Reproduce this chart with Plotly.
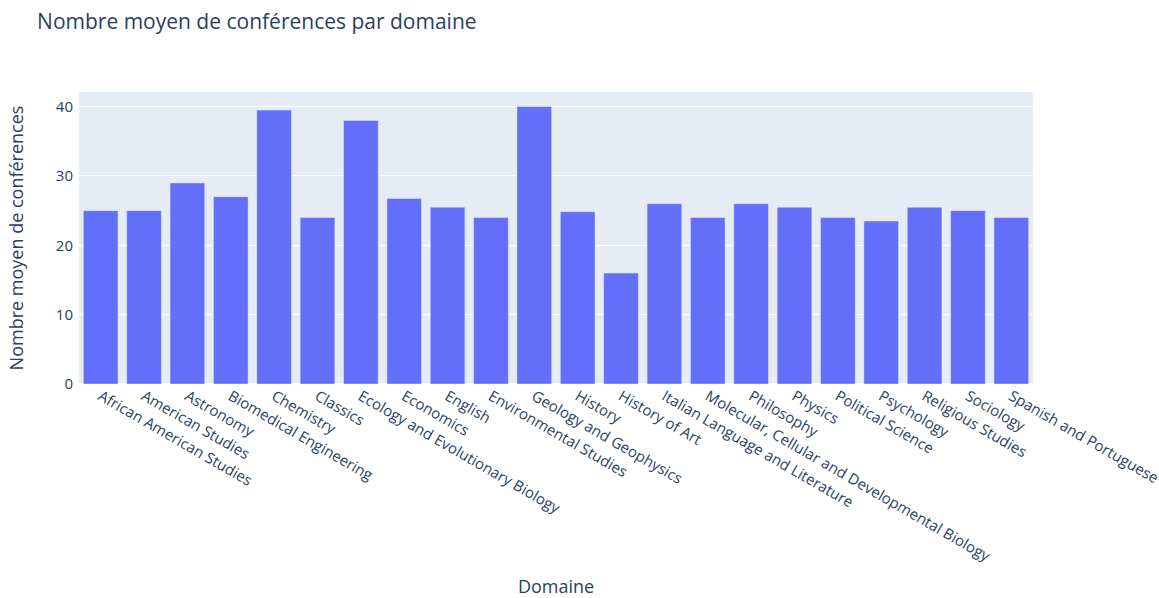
import plotly.graph_objects as go

domaines = [
    "African American Studies", "American Studies", "Astronomy",
    "Biomedical Engineering", "Chemistry", "Classics",
    "Ecology and Evolutionary Biology", "Economics", "English",
    "Environmental Studies", "Geology and Geophysics", "History",
    "History of Art", "Italian Language and Literature",
    "Molecular, Cellular and Developmental Biology", "Philosophy",
    "Physics", "Political Science", "Psychology", "Religious Studies",
    "Sociology", "Spanish and Portuguese",
]
moyennes = [
    25, 25, 29, 27, 39.5, 24,
    38, 26.75, 25.5,
    24, 40, 24.85,
    16, 26,
    24, 26,
    25.5, 24, 23.5, 25.5,
    25, 24,
]

fig = go.Figure(go.Bar(x=domaines, y=moyennes, marker_color="#636efa"))
fig.update_layout(
    template="plotly",
    width=1159,
    height=598,
    font=dict(size=15),
    title=dict(text="Nombre moyen de conférences par domaine",
               font=dict(size=21),
               x=0.032, xanchor="left", y=1 - 22 / 598, yanchor="middle"),
    margin=dict(l=79, r=126, t=92, b=214),
    xaxis=dict(title=dict(text="Domaine", standoff=43),
               tickangle=30, automargin=False),
    yaxis=dict(title=dict(text="Nombre moyen de conférences", standoff=27),
               dtick=10, ticklabelstandoff=5, automargin=False),
)
fig.write_html("out.html")
